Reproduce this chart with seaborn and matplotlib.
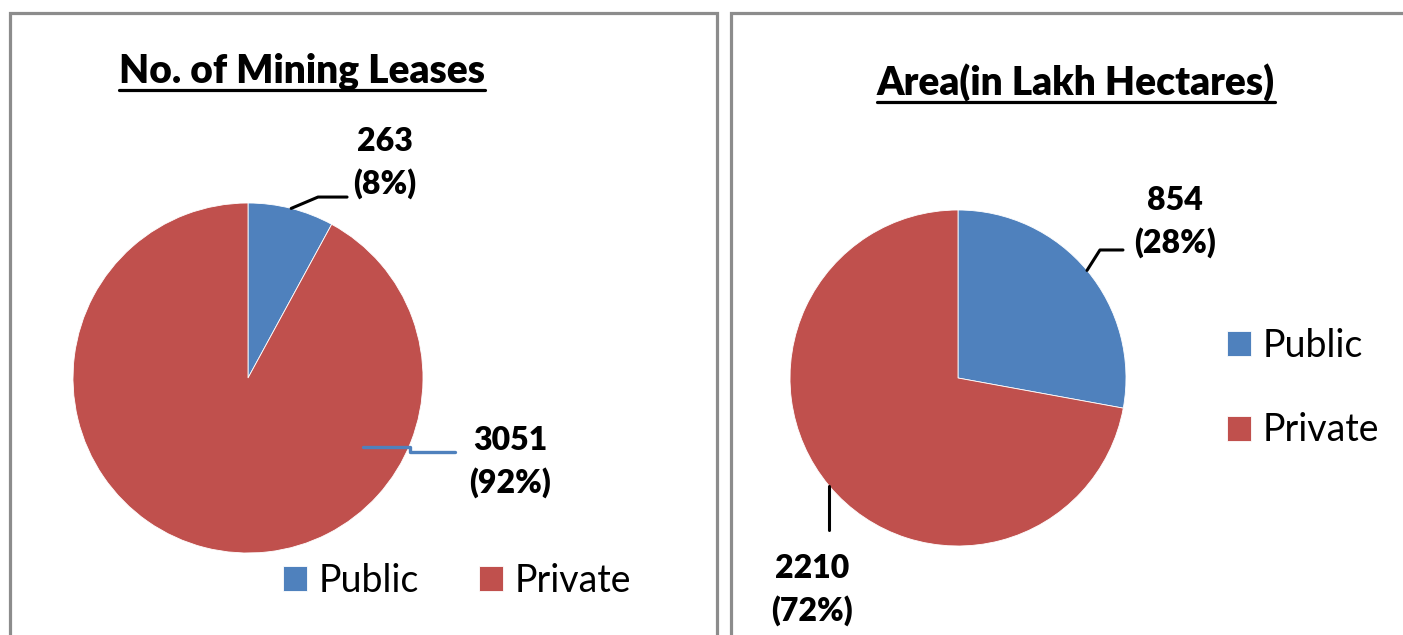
import numpy as np
import matplotlib
matplotlib.use("Agg")
import matplotlib.pyplot as plt
from matplotlib.lines import Line2D
from matplotlib.patches import Rectangle
import seaborn as sns

# Data
categories = ["Public", "Private"]
leases = [263, 3051]
area = [854, 2210]
titles = ["No. of Mining Leases", "Area(in Lakh Hectares)"]
colors = ["#4F81BD", "#C0504D"]

sns.set_theme(style="white")
plt.rcParams['font.family'] = ['Lato', 'DejaVu Sans']
plt.rcParams['text.color'] = 'black'

W, H = 1403, 635
fig = plt.figure(figsize=(W / 100, H / 100), dpi=100)
fig.patch.set_facecolor("white")


def px_axes(cx, cy, r):
    # square axes centred on pixel (cx, cy) with radius r (pixels)
    return fig.add_axes([(cx - r) / W, (H - cy - r) / H, 2 * r / W, 2 * r / H])


def pct_labels(vals):
    tot = sum(vals)
    return [f"{v}\n({100 * v / tot:.0f}%)" for v in vals]


def mid_point(wedge):
    a = np.deg2rad((wedge.theta1 + wedge.theta2) / 2)
    return np.cos(a), np.sin(a)


# panel borders
border = "#8C8C8C"
fig.add_artist(Rectangle((10 / W, -0.05), 707 / W, 1.05 - 13 / H, transform=fig.transFigure,
                         fill=False, edgecolor=border, lw=2.3))
fig.add_artist(Rectangle((731 / W, -0.05), 0.5, 1.05 - 13 / H, transform=fig.transFigure,
                         fill=False, edgecolor=border, lw=2.3))

lbl_kw = dict(fontsize=23, fontweight="heavy", ha="center", va="center", linespacing=1.5)
leg_kw = dict(frameon=False, fontsize=27, handlelength=0.65, handleheight=0.65,
              handletextpad=0.3, borderpad=0, borderaxespad=0,
              bbox_transform=fig.transFigure)

# ---- left pie: number of leases
ax1 = px_axes(248, 378, 175)
w1, _ = ax1.pie(leases, colors=colors, startangle=90, counterclock=False,
                wedgeprops=dict(linewidth=0.6, edgecolor="white"))
ax1.set_xlim(-1, 1)
ax1.set_ylim(-1, 1)
ax1.set_aspect("equal")
lab1 = pct_labels(leases)
mx, my = mid_point(w1[0])
ax1.plot([mx, 0.40, 0.566], [my, 1.034, 1.034], color="black", lw=2.2, clip_on=False)
ax1.text(0.783, 1.229, lab1[0], **lbl_kw)
ax1.plot([0.657, 0.926, 0.926, 1.183], [-0.394, -0.394, -0.423, -0.423],
         color=colors[0], lw=2.4, clip_on=False)
ax1.text(1.497, -0.48, lab1[1], **lbl_kw)
ax1.legend(w1, categories, loc="center", bbox_to_anchor=(457 / W, 1 - 581 / H),
           ncol=2, columnspacing=1.6, **leg_kw)

# ---- right pie: area
ax2 = px_axes(958, 378, 168)
w2, _ = ax2.pie(area, colors=colors, startangle=90, counterclock=False,
                wedgeprops=dict(linewidth=0.6, edgecolor="white"))
ax2.set_xlim(-1, 1)
ax2.set_ylim(-1, 1)
ax2.set_aspect("equal")
lab2 = pct_labels(area)
mx, my = mid_point(w2[0])
ax2.plot([mx, 0.845, 0.982], [my, 0.762, 0.762], color="black", lw=2.2, clip_on=False)
ax2.text(1.292, 0.929, lab2[0], **lbl_kw)
mx, my = mid_point(w2[1])
ax2.plot([mx, mx], [my, -0.905], color="black", lw=2.2, clip_on=False)
ax2.text(-0.869, -1.262, lab2[1], **lbl_kw)
ax2.legend(w2, categories, loc="center left", bbox_to_anchor=(1227 / W, 1 - 388 / H),
           ncol=1, labelspacing=1.3, **leg_kw)

# titles with underline
t1 = fig.text(302 / W, 1 - 71 / H, titles[0], fontsize=28, fontweight="heavy",
              ha="center", va="center")
t2 = fig.text(1076 / W, 1 - 83 / H, titles[1], fontsize=28, fontweight="heavy",
              ha="center", va="center")
fig.canvas.draw()
r = fig.canvas.get_renderer()
for t, y in [(t1, 90), (t2, 102)]:
    bb = t.get_window_extent(r)
    fig.add_artist(Line2D([bb.x0 / W, bb.x1 / W], [1 - y / H, 1 - y / H],
                          transform=fig.transFigure, color="black", lw=2.3))

fig.savefig("out.png", dpi=100, facecolor="white")
